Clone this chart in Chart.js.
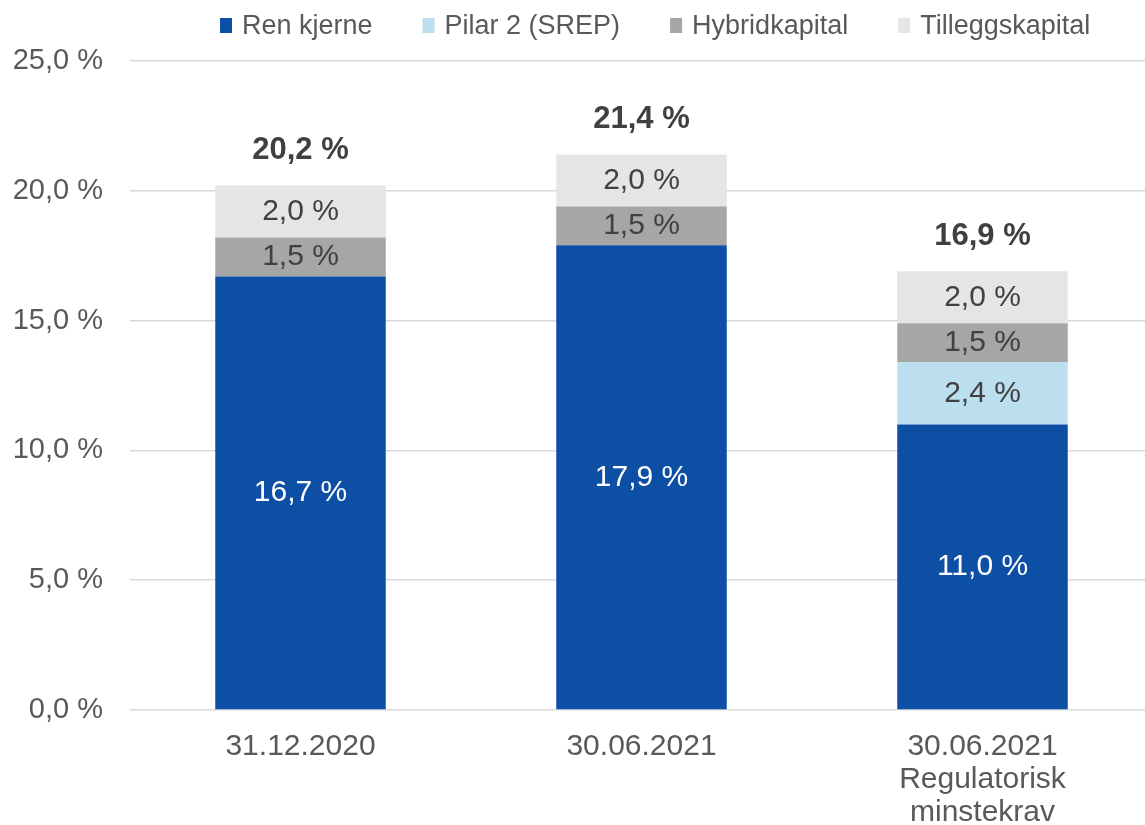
<!DOCTYPE html>
<html>
<head>
<meta charset="utf-8">
<script src="https://cdn.jsdelivr.net/npm/chart.js@4"></script>
<style>
  html, body { margin: 0; padding: 0; background: #fff; overflow: hidden; }
  #wrap { width: 1153px; height: 825px; position: relative; }
</style>
</head>
<body>
<div id="wrap"><canvas id="capitalChart"></canvas></div>
<script>
// Chart data
const categories = ['31.12.2020', '30.06.2021', ['30.06.2021', 'Regulatorisk', 'minstekrav']];
const seriesNames = ['Ren kjerne', 'Pilar 2 (SREP)', 'Hybridkapital', 'Tilleggskapital'];
const renKjerne = [16.7, 17.9, 11.0];
const pilar2 = [0, 0, 2.4];
const hybridkapital = [1.5, 1.5, 1.5];
const tilleggskapital = [2.0, 2.0, 2.0];
const yTicks = [0, 5, 10, 15, 20, 25];

const colors = ['#0E4FA6', '#BCDFF0', '#A6A6A6', '#E5E5E5'];
const labelColors = ['#FFFFFF', '#404040', '#404040', '#404040'];
const FONT = '"Liberation Sans", Arial, sans-serif';

function fmt(v) {
  return v.toFixed(1).replace('.', ',') + ' %';
}

const values = [renKjerne, pilar2, hybridkapital, tilleggskapital];

// draws the values inside the segments and the bold totals on top
const barLabels = {
  id: 'barLabels',
  afterDatasetsDraw(chart) {
    const c = chart.ctx;
    c.save();
    c.textAlign = 'center';
    c.textBaseline = 'middle';
    c.font = '30px ' + FONT;
    chart.data.datasets.forEach((ds, i) => {
      const meta = chart.getDatasetMeta(i);
      meta.data.forEach((bar, j) => {
        const v = ds.data[j];
        if (!v) return;
        c.fillStyle = labelColors[i];
        c.fillText(fmt(v), bar.x, (bar.y + bar.base) / 2);
      });
    });
    c.font = 'bold 31px ' + FONT;
    c.fillStyle = '#404040';
    const yScale = chart.scales.y;
    categories.forEach((cat, j) => {
      let total = 0;
      values.forEach(arr => { total += arr[j] || 0; });
      const x = chart.getDatasetMeta(0).data[j].x;
      c.fillText(fmt(Math.round(total * 10) / 10), x, yScale.getPixelForValue(total) - 35);
    });
    c.restore();
  }
};

// legend drawn by hand so it sits where the original has it
const topLegend = {
  id: 'topLegend',
  afterDraw(chart) {
    const c = chart.ctx;
    c.save();
    c.font = '27px ' + FONT;
    c.textBaseline = 'alphabetic';
    let x = 220;
    seriesNames.forEach((name, i) => {
      c.fillStyle = colors[i];
      c.fillRect(x, 18, 12, 15);
      c.fillStyle = '#595959';
      c.fillText(name, x + 22, 34);
      x += 22 + c.measureText(name).width + 50;
    });
    c.restore();
  }
};

const ctx = document.getElementById('capitalChart').getContext('2d');

const chart = new Chart(ctx, {
  type: 'bar',
  data: {
    labels: categories,
    datasets: seriesNames.map((name, i) => ({
      label: name,
      data: values[i],
      backgroundColor: colors[i],
      borderWidth: 0,
      categoryPercentage: 0.5,
      barPercentage: 1.0
    }))
  },
  options: {
    responsive: true,
    maintainAspectRatio: false,
    animation: false,
    layout: {
      padding: { top: 61, left: 13, right: 0, bottom: 0 }
    },
    plugins: {
      legend: { display: false },
      tooltip: { enabled: false }
    },
    scales: {
      x: {
        stacked: true,
        grid: { display: false, drawTicks: false },
        border: { display: false },
        afterFit(scale) { scale.height = 115; },
        ticks: {
          color: '#595959',
          padding: 20,
          font: { family: FONT, size: 30, lineHeight: 1.1 },
          maxRotation: 0
        }
      },
      y: {
        stacked: true,
        min: 0,
        max: 25,
        afterBuildTicks(scale) {
          scale.ticks = yTicks.map(v => ({ value: v }));
        },
        afterFit(scale) { scale.width = 117; },
        grid: { color: '#D9D9D9', lineWidth: 1.5, drawTicks: false },
        border: { display: false },
        ticks: {
          color: '#595959',
          padding: 27,
          font: { family: FONT, size: 29 },
          callback: v => fmt(v)
        }
      }
    }
  },
  plugins: [barLabels, topLegend]
});
</script>
</body>
</html>
